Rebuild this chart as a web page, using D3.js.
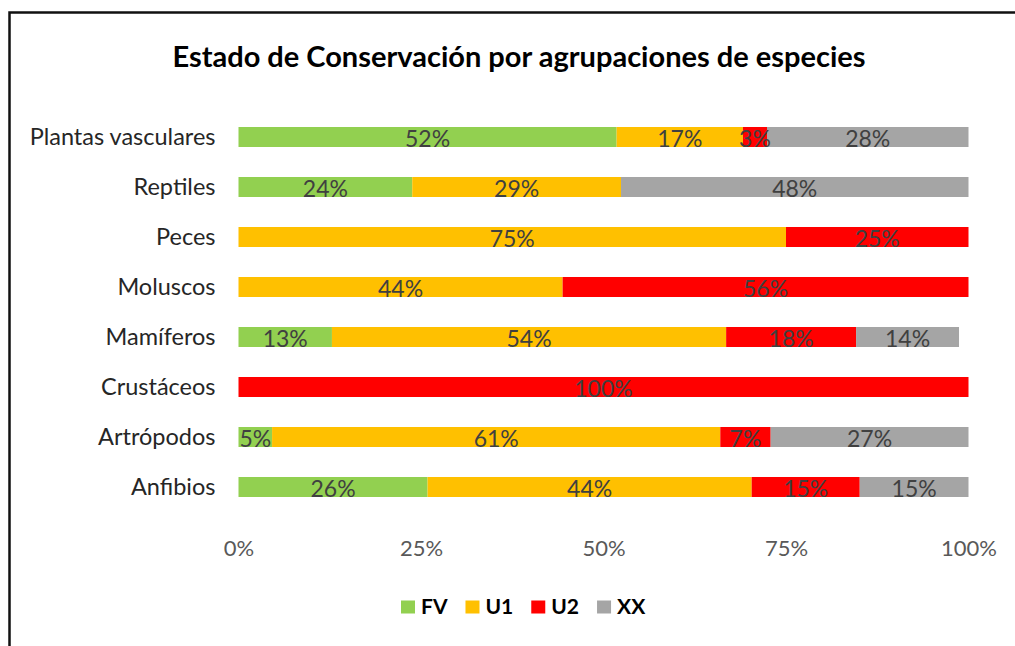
<!DOCTYPE html>
<html>
<head>
<meta charset="utf-8">
<script src="https://cdn.jsdelivr.net/npm/d3@7"></script>
<style>
  html, body { margin: 0; padding: 0; background: #fff; }
  svg { display: block; font-family: Lato, "Open Sans", sans-serif; }
</style>
</head>
<body>
<div id="chart"></div>
<script>
// categories, top to bottom
const categories = ['Plantas vasculares', 'Reptiles', 'Peces', 'Moluscos', 'Mamíferos', 'Crustáceos', 'Artrópodos', 'Anfibios'];

// share of each status per group (percent)
const fv = [51.8, 23.8, 0, 0, 12.8, 0, 4.6, 25.9];
const u1 = [17.3, 28.6, 75, 44.4, 54.0, 0, 61.4, 44.4];
const u2 = [3.3, 0, 25, 55.6, 17.8, 100, 6.9, 14.8];
const xx = [27.6, 47.6, 0, 0, 14.1, 0, 27.1, 14.9];

const seriesNames = ['FV', 'U1', 'U2', 'XX'];
const seriesColors = ['#92D050', '#FFC000', '#FF0000', '#A5A5A5'];
const xTicks = [0, 25, 50, 75, 100];

const width = 1015, height = 646;
const margin = { left: 238.5, right: 46.5, top: 112, bottom: 134 };

const svg = d3.select('#chart').append('svg')
    .attr('width', width)
    .attr('height', height);

// frame (only top and left edges fall inside the picture)
svg.append('rect')
    .attr('x', 9.5).attr('y', 12.5)
    .attr('width', width + 20).attr('height', height + 20)
    .attr('fill', 'none')
    .attr('stroke', '#111')
    .attr('stroke-width', 2.5);

// title
svg.append('text')
    .attr('x', 519).attr('y', 67)
    .attr('text-anchor', 'middle')
    .attr('font-size', '29px')
    .attr('font-weight', 'bold')
    .attr('fill', '#000')
    .text('Estado de Conservación por agrupaciones de especies');

const x = d3.scaleLinear().domain([0, 100]).range([margin.left, width - margin.right]);
const y = d3.scaleBand().domain(categories)
    .range([margin.top, height - margin.bottom])
    .paddingInner(0.6).paddingOuter(0.3);

// build stacked rows from the series arrays
const rows = categories.map((c, i) => ({ cat: c, FV: fv[i], U1: u1[i], U2: u2[i], XX: xx[i] }));
const stack = d3.stack().keys(seriesNames)(rows);

const layers = svg.selectAll('.layer')
    .data(stack)
    .enter()
    .append('g')
    .attr('class', 'layer')
    .attr('fill', (d, i) => seriesColors[i]);

layers.selectAll('rect')
    .data(d => d.filter(s => s[1] - s[0] > 0))
    .enter()
    .append('rect')
    .attr('x', d => x(d[0]))
    .attr('y', d => y(d.data.cat))
    .attr('width', d => x(d[1]) - x(d[0]))
    .attr('height', y.bandwidth());

// data labels
const labelLayer = svg.append('g');
stack.forEach(layer => {
    layer.filter(s => s[1] - s[0] > 0).forEach(s => {
        labelLayer.append('text')
            .attr('x', (x(s[0]) + x(s[1])) / 2)
            .attr('y', y(s.data.cat) + y.bandwidth() / 2 + 2)
            .attr('dy', '0.35em')
            .attr('text-anchor', 'middle')
            .attr('font-size', '23px')
            .attr('fill', '#404040')
            .text(Math.round(s[1] - s[0]) + '%');
    });
});

// category axis
const yAxis = svg.append('g')
    .attr('transform', `translate(${margin.left - 23},0)`)
    .call(d3.axisLeft(y).tickSize(0).tickPadding(0));
yAxis.select('.domain').remove();
yAxis.selectAll('text')
    .attr('font-size', '23.5px')
    .attr('font-family', 'Lato, sans-serif')
    .attr('fill', '#262626')
    .attr('dy', '0.35em');

// value axis
const xAxis = svg.append('g')
    .attr('transform', 'translate(0,548)')
    .call(d3.axisBottom(x).tickValues(xTicks).tickFormat(d => d + '%').tickSize(0).tickPadding(0));
xAxis.select('.domain').remove();
xAxis.selectAll('text')
    .attr('font-size', '22px')
    .attr('font-family', 'Lato, sans-serif')
    .attr('fill', '#595959')
    .attr('dy', '0.35em');

// legend
const legend = svg.append('g').attr('transform', 'translate(401,607)');
let lx = 0;
seriesNames.forEach((name, i) => {
    const g = legend.append('g').attr('transform', `translate(${lx},0)`);
    g.append('rect')
        .attr('x', 0).attr('y', -6.5)
        .attr('width', 14).attr('height', 13)
        .attr('fill', seriesColors[i]);
    const t = g.append('text')
        .attr('x', 20).attr('y', 0)
        .attr('dy', '0.35em')
        .attr('font-size', '21px')
        .attr('font-weight', 'bold')
        .attr('fill', '#000')
        .text(name);
    lx += 20 + t.node().getComputedTextLength() + 18;
});
</script>
</body>
</html>
